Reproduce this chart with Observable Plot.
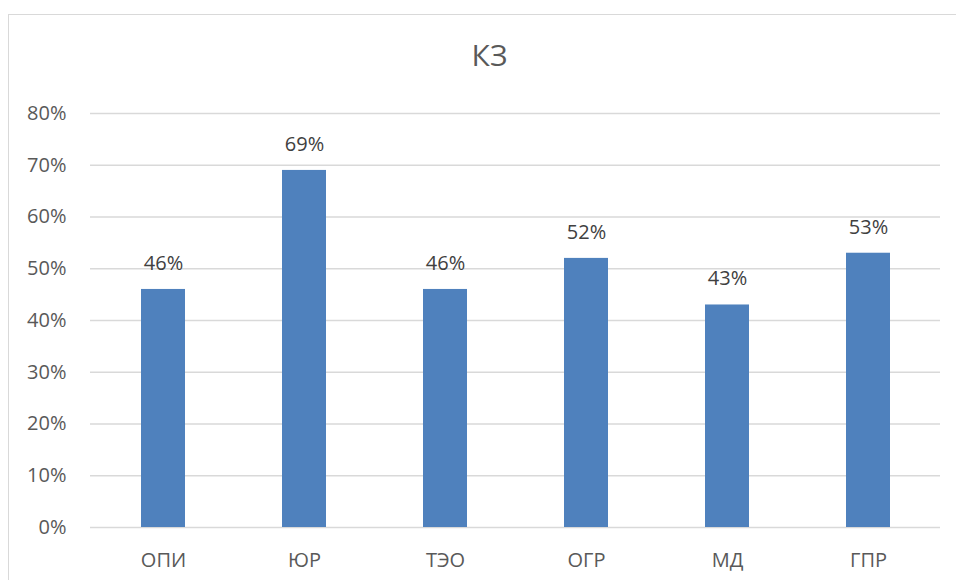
<!DOCTYPE html>
<html>
<head>
<meta charset="utf-8">
<script src="https://cdn.jsdelivr.net/npm/d3@7"></script>
<script src="https://cdn.jsdelivr.net/npm/@observablehq/plot@0.6"></script>
<style>
  body { margin: 0; background: #fff; }
  #wrap { position: relative; width: 956px; height: 580px; overflow: hidden; }
  #frame { position: absolute; left: 8px; top: 14px; width: 980px; height: 600px; border: 1px solid #d9d9d9; box-sizing: border-box; }
  #title { position: absolute; left: 0; width: 979px; top: 40px; line-height: 30px; text-align: center; font-family: "Open Sans", sans-serif; font-size: 30px; color: #595959; }
  #chart { position: absolute; left: 0; top: 0; }
</style>
</head>
<body>
<div id="wrap">
  <div id="frame"></div>
  <div id="title">КЗ</div>
  <div id="chart"></div>
</div>
<script>
const categories = ["ОПИ", "ЮР", "ТЭО", "ОГР", "МД", "ГПР"];
const values = [0.46, 0.69, 0.46, 0.52, 0.43, 0.53];
const yTicks = [0, 0.1, 0.2, 0.3, 0.4, 0.5, 0.6, 0.7, 0.8];

const data = categories.map((c, i) => ({ cat: c, value: values[i] }));
const pct = d => Math.round(d * 100) + "%";

const chart = Plot.plot({
  width: 956,
  height: 580,
  marginLeft: 90,
  marginRight: 16,
  marginTop: 113,
  marginBottom: 53,
  style: { fontFamily: "'Open Sans', sans-serif", fontSize: "20px", color: "#595959", background: "transparent" },
  x: { domain: categories, paddingInner: 0.69, paddingOuter: 0.345, label: null },
  y: { domain: [0, 0.8], label: null },
  marks: [
    Plot.gridY(yTicks, { stroke: "#d9d9d9", strokeOpacity: 1, strokeWidth: 1.5 }),
    Plot.barY(data, { x: "cat", y: "value", fill: "#4f81bd" }),
    Plot.text(data, { x: "cat", y: "value", text: d => pct(d.value), dy: -26, fontSize: 20, fill: "#404040" }),
    Plot.axisX({ tickSize: 0, tickPadding: 25, fontSize: 20, fill: "#595959" }),
    Plot.axisY(yTicks, { tickSize: 0, tickPadding: 24, tickFormat: pct, fontSize: 20, fill: "#595959" })
  ]
});
document.getElementById("chart").appendChild(chart);
</script>
</body>
</html>
